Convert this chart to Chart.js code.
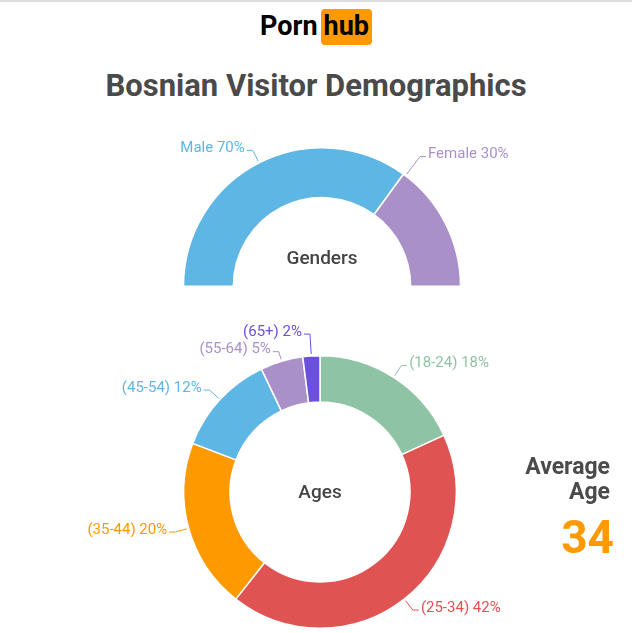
<!DOCTYPE html>
<html>
<head>
<meta charset="utf-8">
<script src="https://cdn.jsdelivr.net/npm/chart.js@4"></script>
<style>
  body { margin: 0; background: #fff; font-family: Roboto, sans-serif; }
  #wrap { position: relative; width: 632px; height: 633px; overflow: hidden; border-top: 2px solid #ddd; box-sizing: border-box; }
  canvas { position: absolute; left: 0; top: 0; }
  .logo { position: absolute; top: 8px; left: 0; width: 632px; text-align: center; font-weight: bold; font-size: 27px; color: #000; }
  .logo span.hub { background: #ff9900; border-radius: 4px; padding: 1px 3px 3px 3px; margin-left: 3px; }
  .title { position: absolute; top: 65px; width: 632px; text-align: center; font-weight: bold; font-size: 31px; color: #4a4a4a; }
  .center { position: absolute; font-size: 19px; font-weight: 500; color: #444; text-align: center; width: 200px; }
  .avg { position: absolute; left: 500px; top: 452px; width: 110px; text-align: right; font-weight: bold; font-size: 23px; color: #4a4a4a; line-height: 25px; }
  .avgnum { position: absolute; left: 500px; top: 508px; width: 114px; text-align: right; font-weight: bold; font-size: 46px; color: #ff9900; }
</style>
</head>
<body>
<div id="wrap">
  <div class="logo">Porn<span class="hub">hub</span></div>
  <div class="title">Bosnian Visitor Demographics</div>
  <canvas id="genderChart" width="632" height="633"></canvas>
  <canvas id="ageChart" width="632" height="633"></canvas>
  <div class="center" style="left:222px; top:244px;">Genders</div>
  <div class="center" style="left:220px; top:478px;">Ages</div>
  <div class="avg">Average<br>Age</div>
  <div class="avgnum">34</div>
</div>
<script>
// ---- data ----
const genderLabels = ["Male", "Female"];
const genderValues = [70, 30];
const genderColors = ["#5eb6e4", "#aa90c9"];

const ageLabels = ["(18-24)", "(25-34)", "(35-44)", "(45-54)", "(55-64)", "(65+)"];
const ageValues = [18, 42, 20, 12, 5, 2];
const ageColors = ["#8ec4a5", "#e05353", "#ff9900", "#5eb6e4", "#aa90c9", "#6b50e0"];

// ---- leader-line labels ----
const leaderLabels = {
  id: "leaderLabels",
  afterDatasetsDraw(chart, args, opts) {
    const ctx = chart.ctx;
    const meta = chart.getDatasetMeta(0);
    const labels = chart.data.labels;
    const values = chart.data.datasets[0].data;
    const colors = chart.data.datasets[0].backgroundColor;
    ctx.save();
    ctx.font = "15px Roboto, sans-serif";
    ctx.textBaseline = "middle";
    meta.data.forEach((arc, i) => {
      const frac = opts.frac ? opts.frac[i] : 0.5;
      const mid = arc.startAngle + (arc.endAngle - arc.startAngle) * frac;
      const r = arc.outerRadius;
      const ext = opts.ext[i];
      const cos = Math.cos(mid), sin = Math.sin(mid);
      const x0 = arc.x + cos * (r + 2), y0 = arc.y + sin * (r + 2);
      const x1 = arc.x + cos * (r + ext), y1 = arc.y + sin * (r + ext);
      const right = opts.side ? opts.side[i] === "r" : cos >= 0;
      const x2 = x1 + (right ? 6 : -6);
      ctx.strokeStyle = colors[i];
      ctx.lineWidth = 1;
      ctx.beginPath();
      ctx.moveTo(x0, y0);
      ctx.lineTo(x1, y1);
      ctx.lineTo(x2, y1);
      ctx.stroke();
      ctx.fillStyle = colors[i];
      ctx.textAlign = right ? "left" : "right";
      ctx.fillText(labels[i] + " " + values[i] + "%", x2 + (right ? 2 : -2), y1 - 2);
    });
    ctx.restore();
  }
};

function createDoughnut(canvasId, labels, values, colors, extra) {
  return new Chart(document.getElementById(canvasId), {
    type: "doughnut",
    data: {
      labels: labels,
      datasets: [{ data: values, backgroundColor: colors, borderColor: "#ffffff", borderWidth: 1.5 }]
    },
    options: Object.assign({
      responsive: false,
      animation: false,
      plugins: { legend: { display: false }, tooltip: { enabled: false } }
    }, extra),
    plugins: [leaderLabels]
  });
}

createDoughnut("genderChart", genderLabels, genderValues, genderColors, {
  rotation: -90,
  circumference: 180,
  cutout: "64%",
  layout: { padding: { left: 182, right: 170, top: 145, bottom: 348 } },
  plugins: {
    legend: { display: false }, tooltip: { enabled: false },
    leaderLabels: { ext: [14, 24], frac: [0.5, 0.02], side: ["l", "r"] }
  }
});

createDoughnut("ageChart", ageLabels, ageValues, ageColors, {
  cutout: "66%",
  layout: { padding: { left: 183, right: 175, top: 353, bottom: 6 } },
  plugins: {
    legend: { display: false }, tooltip: { enabled: false },
    leaderLabels: { ext: [14, 14, 14, 14, 10, 22] }
  }
});
</script>
</body>
</html>
